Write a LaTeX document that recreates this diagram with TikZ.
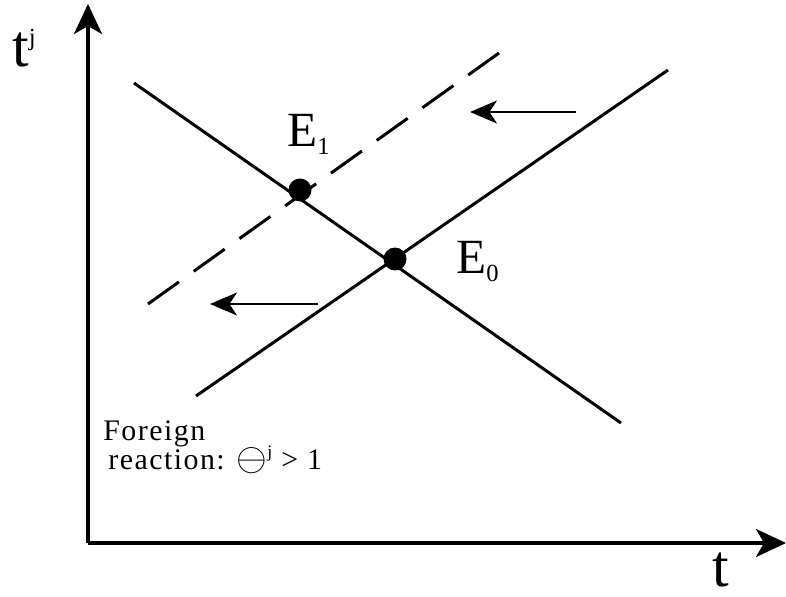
\documentclass[tikz,border=0pt]{standalone}
\usepackage{fontspec}
\setmainfont{Liberation Serif}
\usetikzlibrary{arrows.meta,positioning}

\begin{document}
\begin{tikzpicture}[
    x=0.02cm,y=-0.02cm,
    axis/.style={line width=2pt,-{Stealth[length=6mm,width=5.6mm,inset=1.6mm]}},
    curve/.style={line width=1.7pt},
    shiftarrow/.style={line width=1.1pt,-{Stealth[length=5.4mm,width=4.6mm,inset=1.5mm]}},
    dot/.style={circle,fill=black,inner sep=0pt,minimum size=0.46cm},
    lab/.style={anchor=base west,inner sep=0pt}
  ]
    \useasboundingbox (0,0) rectangle (786,597);
    % axes
    \coordinate (o) at (88,543);
    \coordinate (ytip) at (88,4);
    \coordinate (xtip) at (786,543);
    \draw[axis] (o) -- (ytip);
    \draw[axis] (o) -- (xtip);
    \node[lab,font=\fontsize{34}{40}\selectfont] (ylab) at (12,67) {t\raisebox{12.5pt}{\fontsize{14}{14}\selectfont j}};
    \node[lab,font=\fontsize{34}{40}\selectfont] (xlab) at (712,586) {t};
    % lines
    \coordinate (d0) at (134,83);
    \coordinate (d1) at (621,423);
    \coordinate (s0) at (196,396);
    \coordinate (s1) at (668,70);
    \coordinate (n0) at (148,304);
    \coordinate (n1) at (499,53);
    \draw[curve] (d0) -- (d1);
    \draw[curve] (s0) -- (s1);
    \draw[curve,dash pattern=on 0.76cm off 0.365cm] (n0) -- (n1);
    % shifts
    \coordinate (a0) at (576,112);
    \coordinate (a1) at (470,112);
    \coordinate (b0) at (318,304);
    \coordinate (b1) at (210,304);
    \draw[shiftarrow] (a0) -- (a1);
    \draw[shiftarrow] (b0) -- (b1);
    % equilibria
    \node[dot] (e1) at (300,190) {};
    \node[dot] (e0) at (395,259) {};
    \node[lab,font=\fontsize{28}{32}\selectfont] (e1lab) at (287,147) {E\raisebox{-4.5pt}{\fontsize{14}{14}\selectfont 1}};
    \node[lab,font=\fontsize{28}{32}\selectfont] (e0lab) at (456,274) {E\raisebox{-4.5pt}{\fontsize{14}{14}\selectfont 0}};
    % note
    \node[lab,font=\fontsize{17}{20}\selectfont\addfontfeature{LetterSpace=5}] (foreign) at (103,440) {Foreign};
    \node[lab,font=\fontsize{17}{20}\selectfont\addfontfeature{LetterSpace=5}] (reaction) at (108,469) {reaction: \raisebox{-1pt}{\scalebox{1.3}{$\ominus$}}\raisebox{6.5pt}{\fontsize{10}{10}\selectfont j} > 1};
\end{tikzpicture}
\end{document}
